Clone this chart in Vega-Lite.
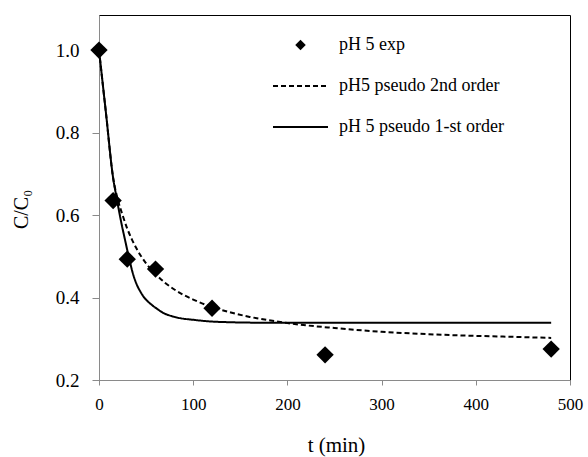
{
  "$schema": "https://vega.github.io/schema/vega-lite/v6.json",
  "width": 471,
  "height": 365,
  "autosize": {"type": "none"},
  "padding": {"left": 99, "top": 15, "right": 18, "bottom": 77},
  "background": "white",
  "config": {
    "view": {"stroke": "black", "strokeWidth": 1},
    "font": "Liberation Serif",
    "axis": {"labelFont": "Liberation Serif", "titleFont": "Liberation Serif"},
    "legend": {"labelFont": "Liberation Serif"}
  },
  "datasets": {
    "curves": [
      {"series": "pH5 pseudo 2nd order", "t": 0, "c": 1.0},
      {"series": "pH5 pseudo 2nd order", "t": 7.5, "c": 0.845},
      {"series": "pH5 pseudo 2nd order", "t": 15, "c": 0.69},
      {"series": "pH5 pseudo 2nd order", "t": 20, "c": 0.637},
      {"series": "pH5 pseudo 2nd order", "t": 25, "c": 0.6},
      {"series": "pH5 pseudo 2nd order", "t": 30, "c": 0.567},
      {"series": "pH5 pseudo 2nd order", "t": 35, "c": 0.5405},
      {"series": "pH5 pseudo 2nd order", "t": 40, "c": 0.518},
      {"series": "pH5 pseudo 2nd order", "t": 50, "c": 0.483},
      {"series": "pH5 pseudo 2nd order", "t": 60, "c": 0.457},
      {"series": "pH5 pseudo 2nd order", "t": 70, "c": 0.436},
      {"series": "pH5 pseudo 2nd order", "t": 80, "c": 0.4195},
      {"series": "pH5 pseudo 2nd order", "t": 90, "c": 0.406},
      {"series": "pH5 pseudo 2nd order", "t": 100, "c": 0.395},
      {"series": "pH5 pseudo 2nd order", "t": 120, "c": 0.377},
      {"series": "pH5 pseudo 2nd order", "t": 140, "c": 0.3636},
      {"series": "pH5 pseudo 2nd order", "t": 160, "c": 0.353},
      {"series": "pH5 pseudo 2nd order", "t": 180, "c": 0.345},
      {"series": "pH5 pseudo 2nd order", "t": 200, "c": 0.338},
      {"series": "pH5 pseudo 2nd order", "t": 250, "c": 0.326},
      {"series": "pH5 pseudo 2nd order", "t": 300, "c": 0.317},
      {"series": "pH5 pseudo 2nd order", "t": 350, "c": 0.311},
      {"series": "pH5 pseudo 2nd order", "t": 400, "c": 0.307},
      {"series": "pH5 pseudo 2nd order", "t": 450, "c": 0.304},
      {"series": "pH5 pseudo 2nd order", "t": 480, "c": 0.302},
      {"series": "pH 5 pseudo 1-st order", "t": 0, "c": 1.0},
      {"series": "pH 5 pseudo 1-st order", "t": 7.5, "c": 0.845},
      {"series": "pH 5 pseudo 1-st order", "t": 15, "c": 0.69},
      {"series": "pH 5 pseudo 1-st order", "t": 18, "c": 0.65},
      {"series": "pH 5 pseudo 1-st order", "t": 21, "c": 0.613},
      {"series": "pH 5 pseudo 1-st order", "t": 24, "c": 0.578},
      {"series": "pH 5 pseudo 1-st order", "t": 27.6, "c": 0.54},
      {"series": "pH 5 pseudo 1-st order", "t": 30, "c": 0.515},
      {"series": "pH 5 pseudo 1-st order", "t": 33, "c": 0.485},
      {"series": "pH 5 pseudo 1-st order", "t": 36.4, "c": 0.455},
      {"series": "pH 5 pseudo 1-st order", "t": 40, "c": 0.432},
      {"series": "pH 5 pseudo 1-st order", "t": 44, "c": 0.414},
      {"series": "pH 5 pseudo 1-st order", "t": 47, "c": 0.403},
      {"series": "pH 5 pseudo 1-st order", "t": 55, "c": 0.384},
      {"series": "pH 5 pseudo 1-st order", "t": 62, "c": 0.372},
      {"series": "pH 5 pseudo 1-st order", "t": 68, "c": 0.363},
      {"series": "pH 5 pseudo 1-st order", "t": 77, "c": 0.355},
      {"series": "pH 5 pseudo 1-st order", "t": 86, "c": 0.35},
      {"series": "pH 5 pseudo 1-st order", "t": 100, "c": 0.346},
      {"series": "pH 5 pseudo 1-st order", "t": 118, "c": 0.342},
      {"series": "pH 5 pseudo 1-st order", "t": 140, "c": 0.34},
      {"series": "pH 5 pseudo 1-st order", "t": 171, "c": 0.339},
      {"series": "pH 5 pseudo 1-st order", "t": 250, "c": 0.339},
      {"series": "pH 5 pseudo 1-st order", "t": 480, "c": 0.339}
    ],
    "exp": [
      {"series": "pH 5 exp", "t": 0, "c": 1.0},
      {"series": "pH 5 exp", "t": 15, "c": 0.635},
      {"series": "pH 5 exp", "t": 30, "c": 0.493},
      {"series": "pH 5 exp", "t": 60, "c": 0.469},
      {"series": "pH 5 exp", "t": 120, "c": 0.374},
      {"series": "pH 5 exp", "t": 240, "c": 0.261},
      {"series": "pH 5 exp", "t": 480, "c": 0.275}
    ]
  },
  "layer": [
    {
      "data": {"name": "curves"},
      "mark": {"type": "line", "interpolate": "monotone", "strokeWidth": 2, "color": "black"},
      "encoding": {
        "x": {
          "field": "t", "type": "quantitative",
          "scale": {"domain": [0, 500], "nice": false},
          "axis": {
            "values": [0, 100, 200, 300, 400, 500],
            "title": "t (min)",
            "grid": false,
            "domainColor": "#8a8a8a", "tickColor": "#8a8a8a", "tickSize": 5,
            "labelFont": "Liberation Serif", "labelFontSize": 17, "labelColor": "black", "labelPadding": 11, "labelFlush": false,
            "titleFont": "Liberation Serif", "titleFontSize": 21, "titleFontWeight": "normal", "titleColor": "black",
            "titleX": 237, "titleY": 71, "titleBaseline": "alphabetic", "titleAlign": "center"
          }
        },
        "y": {
          "field": "c", "type": "quantitative",
          "scale": {"domain": [0.2, 1.085], "nice": false, "zero": false},
          "axis": {
            "values": [0.2, 0.4, 0.6, 0.8, 1.0],
            "format": ".1f",
            "title": "C/C₀",
            "grid": false,
            "domainColor": "#8a8a8a", "tickColor": "#8a8a8a", "tickSize": 7,
            "labelFont": "Liberation Serif", "labelFontSize": 19, "labelColor": "black", "labelPadding": 13, "labelFlush": false,
            "titleFont": "Liberation Serif", "titleFontSize": 20, "titleFontWeight": "normal", "titleColor": "black",
            "titleX": -72, "titleY": 194, "titleAngle": -90, "titleBaseline": "alphabetic", "titleAlign": "center"
          }
        },
        "strokeDash": {
          "field": "series", "type": "nominal",
          "scale": {
            "domain": ["pH 5 exp", "pH5 pseudo 2nd order", "pH 5 pseudo 1-st order"],
            "range": [[1, 0], [5, 3], [1, 0]]
          },
          "legend": {
            "title": null,
            "orient": "none",
            "legendX": 174,
            "legendY": 20,
            "padding": 0,
            "symbolType": "stroke",
            "symbolSize": 3025,
            "symbolStrokeWidth": 2,
            "symbolStrokeColor": "black",
            "symbolOffset": 18.5,
            "clipHeight": 20,
            "labelFont": "Liberation Serif",
            "labelFontSize": 18,
            "labelColor": "black",
            "labelOffset": 29.5,
            "labelLimit": 400,
            "rowPadding": 21,
            "encode": {
              "symbols": {
                "update": {
                  "shape": {"signal": "datum.value === 'pH 5 exp' ? 'diamond' : 'stroke'"},
                  "size": {"signal": "datum.value === 'pH 5 exp' ? 110 : 3025"},
                  "fill": {"signal": "datum.value === 'pH 5 exp' ? 'black' : 'transparent'"},
                  "stroke": {"value": "black"},
                  "strokeWidth": {"signal": "datum.value === 'pH 5 exp' ? 0 : 2"},
                  "strokeDash": {"signal": "datum.value === 'pH5 pseudo 2nd order' ? [5, 3] : [1, 0]"},
                  "opacity": {"value": 1}
                }
              }
            }
          }
        }
      }
    },
    {
      "data": {"name": "exp"},
      "mark": {"type": "point", "shape": "diamond", "filled": true, "size": 300, "color": "black", "opacity": 1},
      "encoding": {
        "x": {"field": "t", "type": "quantitative"},
        "y": {"field": "c", "type": "quantitative"}
      }
    }
  ]
}
